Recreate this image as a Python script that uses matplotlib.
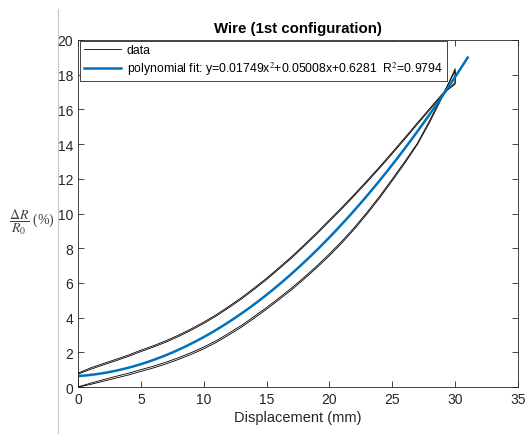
import numpy as np
import matplotlib.pyplot as plt
from matplotlib.lines import Line2D

plt.rcParams['font.family'] = ['Liberation Sans', 'DejaVu Sans']
plt.rcParams['mathtext.fontset'] = 'stix'

# displacement samples (mm) and the loading / unloading branches
disp = [0, 1, 2, 3, 4, 5, 6, 7, 8, 9, 10, 11, 12, 13, 14, 15,
        16, 17, 18, 19, 20, 21, 22, 23, 24, 25, 26, 27, 28, 29, 30]
load1 = [0.0, 0.15, 0.33, 0.51, 0.69, 0.90, 1.10, 1.33, 1.59, 1.88, 2.20, 2.57, 3.00, 3.45, 3.96, 4.48,
         5.04, 5.61, 6.23, 6.88, 7.57, 8.31, 9.11, 9.98, 10.90, 11.89, 12.90, 13.98, 15.29, 16.74, 18.35]
unload1 = [0.80, 1.10, 1.35, 1.59, 1.84, 2.12, 2.38, 2.67, 2.99, 3.35, 3.74, 4.17, 4.65, 5.15, 5.70, 6.27,
           6.89, 7.52, 8.20, 8.90, 9.63, 10.36, 11.12, 11.90, 12.70, 13.53, 14.37, 15.23, 16.07, 16.91, 17.45]
load2 = [0.0, 0.22, 0.42, 0.61, 0.79, 1.00, 1.20, 1.43, 1.69, 1.98, 2.30, 2.67, 3.10, 3.55, 4.06, 4.58,
         5.14, 5.71, 6.33, 6.98, 7.67, 8.41, 9.21, 10.08, 11.00, 11.99, 13.00, 14.05, 15.40, 16.85, 18.20]
unload2 = [0.74, 1.02, 1.27, 1.51, 1.76, 2.04, 2.30, 2.59, 2.91, 3.27, 3.66, 4.09, 4.57, 5.07, 5.62, 6.19,
           6.81, 7.44, 8.12, 8.82, 9.55, 10.28, 11.04, 11.82, 12.62, 13.45, 14.29, 15.15, 15.99, 16.85, 17.55]

# fit from the legend
coef = [0.01749, 0.05008, 0.6281]
fit_range = (0, 31)

fig = plt.figure(figsize=(5.26, 4.35), dpi=100)
ax = fig.add_axes([78/526, 1-388/435, 440/526, 347/435])

for i, (yl, yu) in enumerate([(load1, unload1), (load2, unload2)]):
    xs = disp + disp[::-1] + [disp[0]]
    ys = yl + yu[::-1] + [yl[0]]
    ax.plot(xs, ys, color='black', lw=0.6, label='data' if i == 0 else None)

xf = np.linspace(fit_range[0], fit_range[1], 200)
ax.plot(xf, np.polyval(coef, xf), color=(0, 0.447, 0.741), lw=1.8,
        label='polynomial fit: y=0.01749x$^2$+0.05008x+0.6281  R$^2$=0.9794')

ax.set_xlim(0, 35)
ax.set_ylim(0, 20)
ax.set_xticks(range(0, 36, 5))
ax.set_yticks(range(0, 21, 2))
ax.tick_params(direction='in', top=True, right=True, length=4, width=0.6,
               labelsize=10, colors='#262626')
for s in ax.spines.values():
    s.set_color('#262626')
    s.set_linewidth(0.6)

ax.set_title('Wire (1st configuration)', fontsize=10.8, fontweight='bold', pad=6)
ax.set_xlabel('Displacement (mm)', fontsize=10.5, color='#262626', labelpad=3)
fig.text(32/526, 1-222/435, r'$\dfrac{\Delta R}{R_0}$ (%)', fontsize=10,
         color='#404040', ha='center', va='center', family='Liberation Serif')

leg = ax.legend(loc='upper left', bbox_to_anchor=(0.0, 1.005), fontsize=8.8,
                fancybox=False, framealpha=1, edgecolor='#262626', handlelength=3.0,
                borderpad=0.3, labelspacing=0.3, handletextpad=0.5, borderaxespad=0.2)
leg.get_frame().set_linewidth(0.6)

fig.add_artist(Line2D([58/526, 58/526], [0, 1-10/435], color='#c8c8c8', lw=0.8))

fig.savefig('out.png', dpi=100)
